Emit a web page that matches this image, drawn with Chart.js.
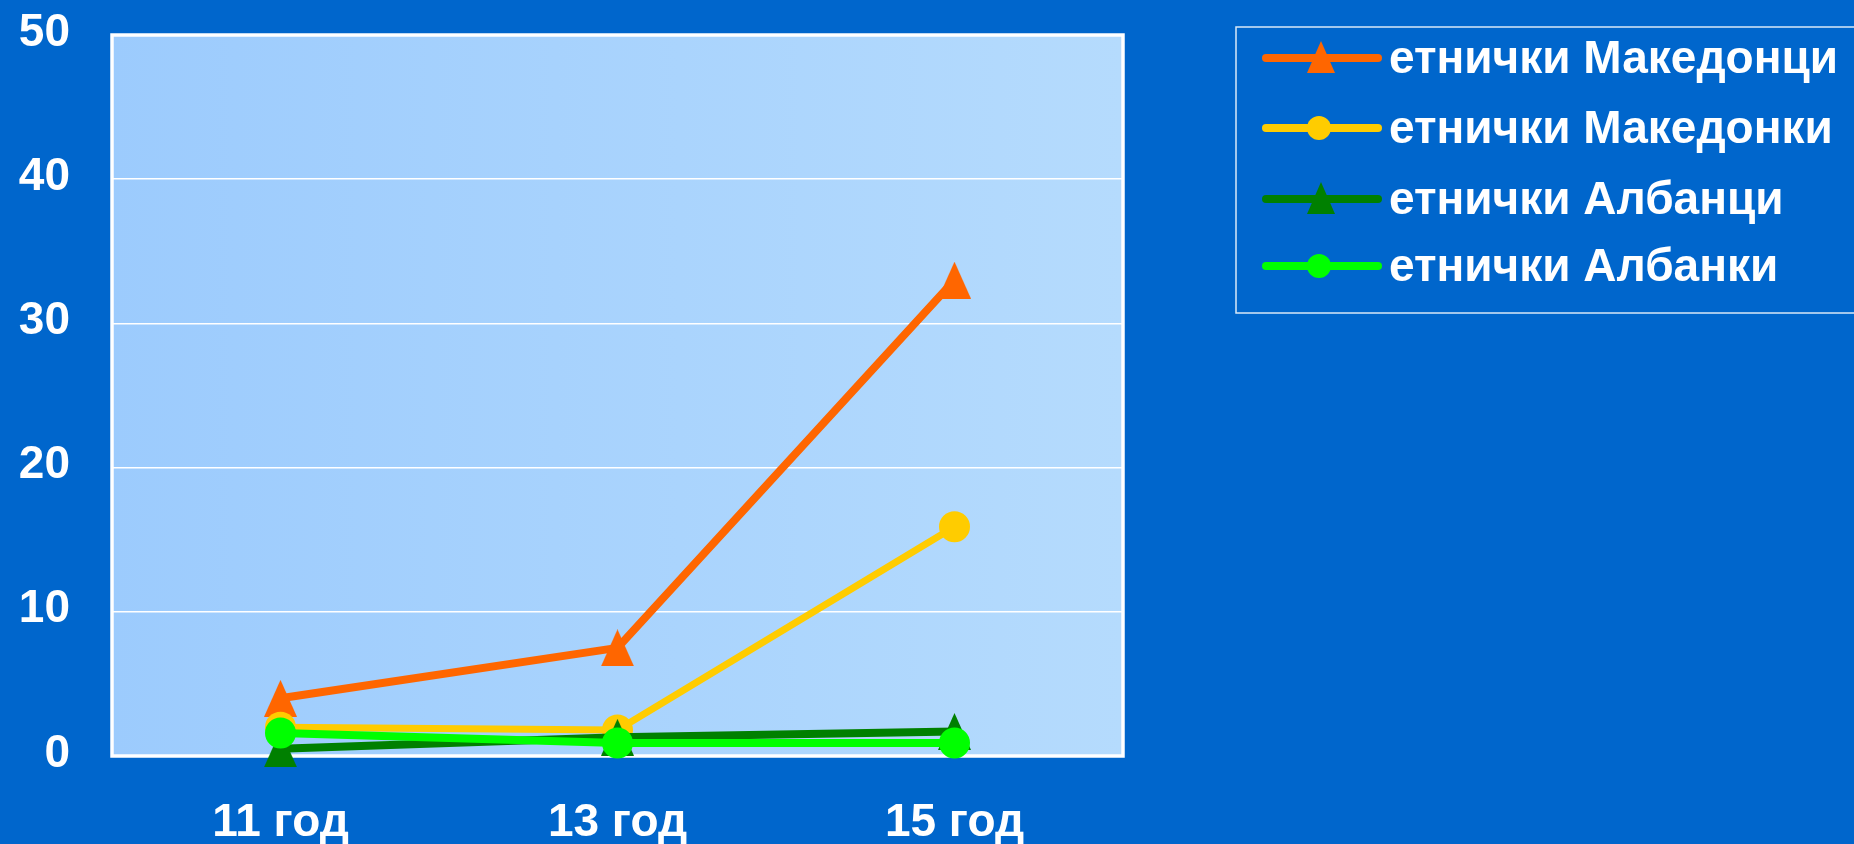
<!DOCTYPE html>
<html>
<head>
<meta charset="utf-8">
<script src="https://cdn.jsdelivr.net/npm/chart.js@4.4.0/dist/chart.umd.min.js"></script>
<style>
    html, body { margin: 0; padding: 0; background: #0066cc; }
    #wrap { width: 1854px; height: 844px; position: relative; }
</style>
</head>
<body>
<div id="wrap"><canvas id="chart"></canvas></div>
<script>
// values
const ages = ['11 год', '13 год', '15 год'];
const seriesNames = ['етнички Македонци', 'етнички Македонки', 'етнички Албанци', 'етнички Албанки'];
const macedonianBoys = [4.0, 7.5, 33.0];
const macedonianGirls = [2.0, 1.8, 15.9];
const albanianBoys = [0.5, 1.3, 1.7];
const albanianGirls = [1.6, 0.9, 0.9];
const yTicks = [0, 10, 20, 30, 40, 50];

const FONT = '"Liberation Sans", Arial, sans-serif';

// tall triangle marker, like the office one
function triangleMarker(color, w, h) {
    const c = document.createElement('canvas');
    c.width = w;
    c.height = h;
    const ctx = c.getContext('2d');
    ctx.fillStyle = color;
    ctx.beginPath();
    ctx.moveTo(w / 2, 0);
    ctx.lineTo(w, h);
    ctx.lineTo(0, h);
    ctx.closePath();
    ctx.fill();
    return c;
}

const series = [
    { data: macedonianBoys, color: '#ff6600', marker: 'triangle', width: 8, order: 4 },
    { data: macedonianGirls, color: '#ffcc00', marker: 'circle', width: 7, order: 3 },
    { data: albanianBoys, color: '#008000', marker: 'triangle', width: 8, order: 2 },
    { data: albanianGirls, color: '#00ff00', marker: 'circle', width: 8, order: 1 }
];

const datasets = series.map((s, i) => ({
    label: seriesNames[i],
    data: s.data,
    borderColor: s.color,
    backgroundColor: s.color,
    borderWidth: s.width,
    pointStyle: s.marker === 'triangle' ? triangleMarker(s.color, 33, 37) : 'circle',
    pointRadius: 15.5,
    pointBorderWidth: 0,
    pointBackgroundColor: s.color,
    tension: 0,
    clip: false,
    order: s.order
}));

// plot background + white frame
const plotFrame = {
    id: 'plotFrame',
    beforeDatasetsDraw(chart) {
        const { ctx, chartArea: a } = chart;
        ctx.save();
        ctx.strokeStyle = '#ffffff';
        ctx.lineWidth = 3.5;
        ctx.strokeRect(a.left, a.top, a.right - a.left, a.bottom - a.top);
        ctx.restore();
    },
    beforeDraw(chart) {
        const { ctx, chartArea: a } = chart;
        ctx.save();
        const g = ctx.createLinearGradient(a.left, 0, a.right, 0);
        g.addColorStop(0, '#9ccbfd');
        g.addColorStop(1, '#b5dbfd');
        ctx.fillStyle = g;
        ctx.fillRect(a.left, a.top, a.right - a.left, a.bottom - a.top);
        ctx.restore();
    }
};

// legend with line + marker samples
const lineLegend = {
    id: 'lineLegend',
    afterDraw(chart) {
        const ctx = chart.ctx;
        ctx.save();
        ctx.strokeStyle = 'rgba(255,255,255,0.85)';
        ctx.lineWidth = 1.5;
        ctx.strokeRect(1236, 27, 640, 286);
        const rows = [58, 128, 199, 266];
        chart.data.datasets.forEach((ds, i) => {
            const y = rows[i];
            ctx.strokeStyle = ds.borderColor;
            ctx.lineWidth = 8;
            ctx.lineCap = 'round';
            ctx.beginPath();
            ctx.moveTo(1266, y);
            ctx.lineTo(1378, y);
            ctx.stroke();
            ctx.fillStyle = ds.borderColor;
            ctx.beginPath();
            if (series[i].marker === 'triangle') {
                ctx.moveTo(1321, y - 17);
                ctx.lineTo(1335, y + 15);
                ctx.lineTo(1307, y + 15);
                ctx.closePath();
            } else {
                ctx.arc(1319, y, 12, 0, Math.PI * 2);
            }
            ctx.fill();
            ctx.fillStyle = '#ffffff';
            ctx.font = 'bold 46px ' + FONT;
            ctx.textBaseline = 'middle';
            ctx.textAlign = 'left';
            ctx.fillText(ds.label, 1389, y + 2);
        });
        ctx.restore();
    }
};

new Chart(document.getElementById('chart'), {
    type: 'line',
    data: { labels: ages, datasets: datasets },
    plugins: [plotFrame, lineLegend],
    options: {
        responsive: true,
        maintainAspectRatio: false,
        animation: false,
        layout: { padding: { left: 0, top: 35, right: 731, bottom: 0 } },
        plugins: {
            legend: { display: false },
            tooltip: { enabled: false }
        },
        scales: {
            x: {
                offset: true,
                grid: { display: false, drawTicks: false },
                border: { display: false },
                afterFit: scale => { scale.height = 88; },
                ticks: {
                    color: '#ffffff',
                    font: { family: FONT, size: 46, weight: 'bold' },
                    padding: 40
                }
            },
            y: {
                min: 0,
                max: 50,
                afterFit: scale => {
                    scale.width = 112;
                    scale.paddingTop = 0;
                    scale.paddingBottom = 0;
                },
                afterBuildTicks: scale => { scale.ticks = yTicks.map(v => ({ value: v })); },
                grid: { color: '#ffffff', lineWidth: 1.5, drawTicks: false },
                border: { display: false },
                ticks: {
                    color: '#ffffff',
                    font: { family: FONT, size: 46, weight: 'bold' },
                    padding: 42,
                    labelOffset: -2
                }
            }
        }
    }
});
</script>
</body>
</html>
